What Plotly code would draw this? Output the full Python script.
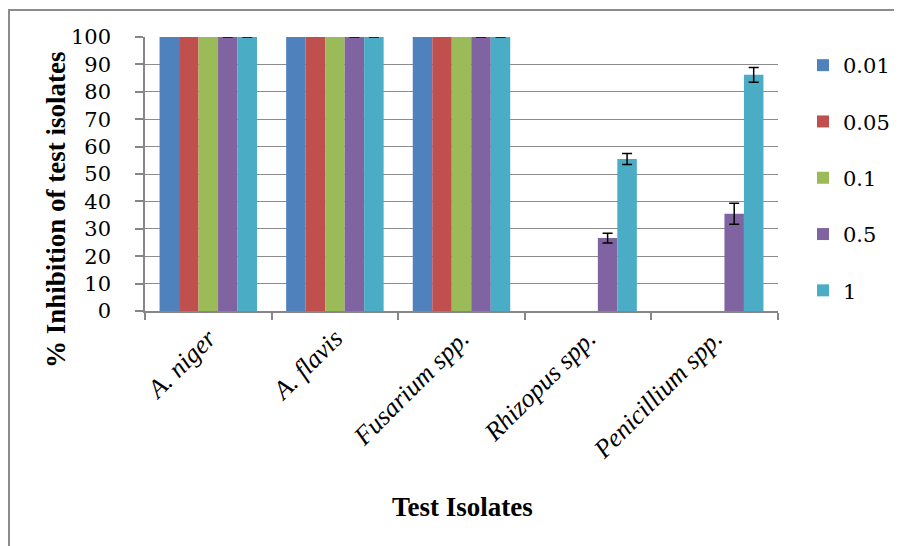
import plotly.graph_objects as go

categories = ["A. niger", "A. flavis", "Fusarium spp.", "Rhizopus spp.", "Penicillium spp."]
series_names = ["0.01", "0.05", "0.1", "0.5", "1"]
v_001 = [100, 100, 100, 0, 0]
v_005 = [100, 100, 100, 0, 0]
v_01 = [100, 100, 100, 0, 0]
v_05 = [100, 100, 100, 26.6, 35.5]
v_1 = [100, 100, 100, 55.5, 86.2]
err_05 = [0, 0, 0, 1.8, 3.8]
err_1 = [0, 0, 0, 2.0, 2.7]
y_ticks = [0, 10, 20, 30, 40, 50, 60, 70, 80, 90, 100]

colors = ["#4F81BD", "#C0504D", "#9BBB59", "#8064A2", "#4BACC6"]
values = [v_001, v_005, v_01, v_05, v_1]
errors = [None, None, None, err_05, err_1]

FONT = "Liberation Serif"
NUMFONT = "DejaVu Serif"

fig = go.Figure()
for name, vals, col, err in zip(series_names, values, colors, errors):
    kw = {}
    if err is not None:
        kw["error_y"] = dict(type="data", array=err, visible=True, color="black",
                             thickness=1.5, width=5)
    fig.add_trace(go.Bar(x=categories, y=vals, name=name, marker_color=col,
                         marker_line_width=0, legendgroup=name, **kw))

O = 8
W, H = 902, 546
L, T = 145 - O, 37 - O
pw, ph = 633, 274
R, B = W - L - pw, H - T - ph

def px(x):
    return (x - O - L) / pw

def py(y):
    return (T + ph - (y - O)) / ph

fig.update_layout(
    template="none",
    width=W, height=H,
    margin=dict(l=L, r=R, t=T, b=B, pad=0),
    paper_bgcolor="white", plot_bgcolor="white",
    barmode="group", bargap=0.23, bargroupgap=0,
    font=dict(family=NUMFONT, color="black", size=21),
    showlegend=True,
    legend=dict(x=px(803), xanchor="left", y=py(45), yanchor="top",
                font=dict(family=NUMFONT, size=21, color="black"),
                tracegroupgap=26, bgcolor="rgba(0,0,0,0)", borderwidth=0),
    xaxis=dict(
        type="category", tickangle=-45,
        tickfont=dict(family=FONT, size=26, style="italic", color="black"),
        ticks="outside", tickson="boundaries", ticklen=7, tickcolor="#868686",
        tickwidth=1.5,
        showline=True, linecolor="#868686", linewidth=1.5,
        showgrid=False, zeroline=False, automargin=False,
    ),
    yaxis=dict(
        range=[0, 100], tickmode="array", tickvals=y_ticks,
        tickfont=dict(family=NUMFONT, size=21, color="black"),
        ticklabelstandoff=20,
        ticks="outside", ticklen=8, tickcolor="#868686", tickwidth=1.5,
        showline=True, linecolor="#868686", linewidth=1.5,
        showgrid=True, gridcolor="#8c8c8c", gridwidth=1,
        zeroline=False, automargin=False,
    ),
    annotations=[
        dict(text="<b>Test Isolates</b>", x=px(462), y=py(507), xref="paper", yref="paper",
             showarrow=False, font=dict(family=FONT, size=27, color="black"),
             xanchor="center", yanchor="middle"),
        dict(text="<b>% Inhibition of test isolates</b>", x=px(56), y=py(210),
             xref="paper", yref="paper", textangle=-90,
             showarrow=False, font=dict(family=FONT, size=27, color="black"),
             xanchor="center", yanchor="middle"),
    ],
    shapes=[
        dict(type="rect", xref="paper", yref="paper",
             x0=px(9), x1=px(920), y0=py(570), y1=py(10),
             line=dict(color="#8c8c8c", width=2), fillcolor="rgba(0,0,0,0)", layer="below"),
    ],
)

fig.write_html("out.html")
